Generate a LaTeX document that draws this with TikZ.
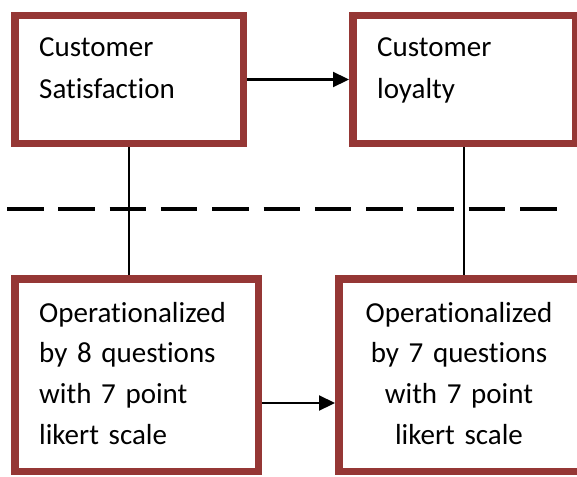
\documentclass[tikz,border=0pt]{standalone}
\usepackage{fontspec}
\setmainfont{Carlito}[Ligatures=NoCommon]
\usetikzlibrary{positioning,arrows.meta}
\definecolor{boxred}{RGB}{149,55,53}
\tikzset{
  boxframe/.style={draw=boxred, line width=7.5pt, inner sep=0pt},
  boxtext/.style={inner sep=0pt, font=\fontsize{29}{42}\selectfont, text width=#1, align=left, anchor=base west},
  link/.style={line width=1.8pt},
  flow/.style={line width=2.2pt, -{Triangle[length=16pt,width=15pt]}},
}

\begin{document}
\begin{tikzpicture}[x=1pt,y=-1pt]
    \useasboundingbox (0,0) rectangle (577,476);
    \clip (0,0) rectangle (577,476);
    % the four frames
    \node[boxframe, minimum width=228.5pt, minimum height=127.5pt] (sat) at (129,79.5) {};
    \node[boxframe, minimum width=222.5pt, minimum height=127.5pt] (loy) at (464,79.5) {};
    \node[boxframe, minimum width=243.5pt, minimum height=192.5pt] (satQ) at (136.5,375) {};
    \node[boxframe, minimum width=242.5pt, minimum height=192.5pt] (loyQ) at (460,375) {};
    % texts
    \node[boxtext=200pt] (satText) at (39,57) {Customer\\Satisfaction};
    \node[boxtext=190pt] (loyText) at (377,57) {Customer\\loyalty};
    \node[boxtext=220pt, font=\fontsize{29}{40.7}\selectfont] (satQText) at (39,322) {Operationalized\\by 8 questions\\with 7 point\\likert scale};
    \node[boxtext=220pt, font=\fontsize{29}{40.7}\selectfont, align=center, anchor=base] (loyQText) at (459,322) {Operationalized\\by 7 questions\\with 7 point\\likert scale};
    % dashed divider
    \coordinate (divL) at (7,209);
    \coordinate (divR) at (560,209);
    \draw[line width=4pt, dash pattern=on 36.5pt off 14.8pt] (divL) -- (divR);
    % connectors
    \draw[link] (sat.south) -- (sat.south |- satQ.north);
    \draw[link] (loy.south) -- (loy.south |- loyQ.north);
    \draw[flow] (sat.east) -- (loy.west);
    \draw[flow] (satQ.east |- 0,403) -- (loyQ.west |- 0,403);
\end{tikzpicture}
\end{document}
